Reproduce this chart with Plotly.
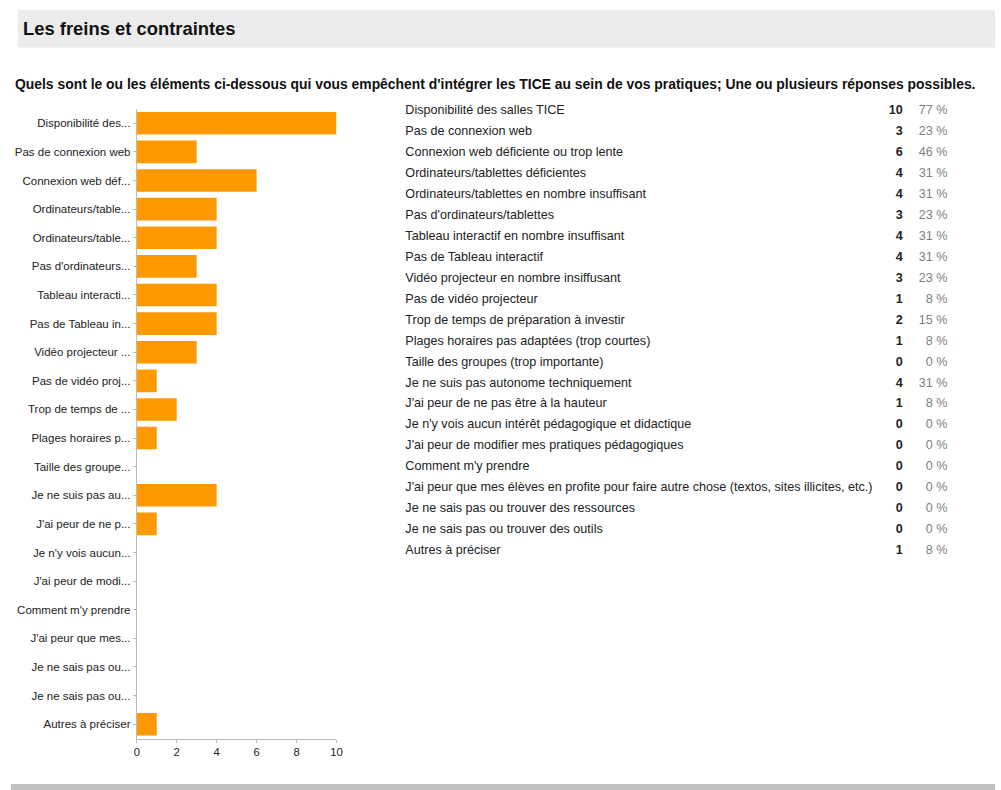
import plotly.graph_objects as go

title = "Les freins et contraintes"
question = ("Quels sont le ou les éléments ci-dessous qui vous empêchent d'intégrer les TICE "
            "au sein de vos pratiques; Une ou plusieurs réponses possibles.")

labels_full = [
    "Disponibilité des salles TICE",
    "Pas de connexion web",
    "Connexion web déficiente ou trop lente",
    "Ordinateurs/tablettes déficientes",
    "Ordinateurs/tablettes en nombre insuffisant",
    "Pas d'ordinateurs/tablettes",
    "Tableau interactif en nombre insuffisant",
    "Pas de Tableau interactif",
    "Vidéo projecteur en nombre insiffusant",
    "Pas de vidéo projecteur",
    "Trop de temps de préparation à investir",
    "Plages horaires pas adaptées (trop courtes)",
    "Taille des groupes (trop importante)",
    "Je ne suis pas autonome techniquement",
    "J'ai peur de ne pas être à la hauteur",
    "Je n'y vois aucun intérêt pédagogique et didactique",
    "J'ai peur de modifier mes pratiques pédagogiques",
    "Comment m'y prendre",
    "J'ai peur que mes élèves en profite pour faire autre chose (textos, sites illicites, etc.)",
    "Je ne sais pas ou trouver des ressources",
    "Je ne sais pas ou trouver des outils",
    "Autres à préciser",
]

labels_short = [
    "Disponibilité des...",
    "Pas de connexion web",
    "Connexion web déf...",
    "Ordinateurs/table...",
    "Ordinateurs/table...",
    "Pas d'ordinateurs...",
    "Tableau interacti...",
    "Pas de Tableau in...",
    "Vidéo projecteur ...",
    "Pas de vidéo proj...",
    "Trop de temps de ...",
    "Plages horaires p...",
    "Taille des groupe...",
    "Je ne suis pas au...",
    "J'ai peur de ne p...",
    "Je n'y vois aucun...",
    "J'ai peur de modi...",
    "Comment m'y prendre",
    "J'ai peur que mes...",
    "Je ne sais pas ou...",
    "Je ne sais pas ou...",
    "Autres à préciser",
]

counts = [10, 3, 6, 4, 4, 3, 4, 4, 3, 1, 2, 1, 0, 4, 1, 0, 0, 0, 0, 0, 0, 1]
percents = ["77 %", "23 %", "46 %", "31 %", "31 %", "23 %", "31 %", "31 %", "23 %", "8 %",
            "15 %", "8 %", "0 %", "31 %", "8 %", "0 %", "0 %", "0 %", "0 %", "0 %", "0 %", "8 %"]

x_ticks = [0, 2, 4, 6, 8, 10]

W, H = 1001, 790
FONT = "Arial, 'Liberation Sans', sans-serif"
TXT = "#222222"
N = len(labels_full)


def px(x):
    return x / W


def py(y):
    return 1 - y / H


fig = go.Figure()

fig.add_trace(go.Bar(
    x=counts, y=labels_full, orientation="h",
    marker=dict(color="#ff9900", line=dict(width=0)),
    width=0.79, xaxis="x", yaxis="y", hoverinfo="x+y", showlegend=False,
))

# table columns
fig.add_trace(go.Scatter(
    x=[406] * N, y=labels_full, mode="text", text=labels_full,
    textposition="middle right", textfont=dict(family=FONT, size=12.6, color=TXT),
    xaxis="x2", yaxis="y2", showlegend=False, hoverinfo="skip",
))
fig.add_trace(go.Scatter(
    x=[908] * N, y=labels_full, mode="text",
    text=["<b>%d</b>" % c for c in counts],
    textposition="middle left", textfont=dict(family=FONT, size=12.6, color=TXT),
    xaxis="x2", yaxis="y2", showlegend=False, hoverinfo="skip",
))
fig.add_trace(go.Scatter(
    x=[953] * N, y=labels_full, mode="text", text=percents,
    textposition="middle left", textfont=dict(family=FONT, size=12.6, color="#808080"),
    xaxis="x2", yaxis="y2", showlegend=False, hoverinfo="skip",
))

fig.update_layout(
    width=W, height=H,
    margin=dict(l=0, r=0, t=0, b=0),
    paper_bgcolor="white", plot_bgcolor="rgba(0,0,0,0)",
    font=dict(family=FONT, size=11, color=TXT),
    xaxis=dict(
        domain=[px(135), px(336.5)], range=[0, 10], tickvals=x_ticks,
        showgrid=False, zeroline=False, showline=True, linecolor="#bbbbbb", linewidth=1,
        ticks="outside", ticklen=3, tickcolor="#bbbbbb",
        tickfont=dict(family=FONT, size=11.3, color=TXT), anchor="y", fixedrange=True,
    ),
    yaxis=dict(
        domain=[py(738.5), py(109)], type="category",
        categoryorder="array", categoryarray=labels_full, range=[N - 0.5, -0.5],
        tickvals=labels_full, ticktext=labels_short,
        showgrid=False, zeroline=False, showline=True, linecolor="#bbbbbb", linewidth=1,
        ticks="outside", ticklen=3, tickcolor="#bbbbbb",
        tickfont=dict(family=FONT, size=11.5, color=TXT), anchor="x", fixedrange=True,
    ),
    xaxis2=dict(domain=[px(400), 1], range=[400, W], visible=False, anchor="y2", fixedrange=True),
    yaxis2=dict(
        domain=[py(561.5), py(100.5)], type="category",
        categoryorder="array", categoryarray=labels_full, range=[N - 0.5, -0.5],
        visible=False, anchor="x2", fixedrange=True,
    ),
    shapes=[
        dict(type="rect", xref="paper", yref="paper", x0=px(15), x1=1, y0=py(47.5), y1=py(10),
             fillcolor="#ececec", line=dict(width=0), layer="below"),
        dict(type="rect", xref="paper", yref="paper", x0=px(8), x1=1, y0=0, y1=py(784),
             fillcolor="#c0c0c0", line=dict(width=0), layer="below"),
    ],
    annotations=[
        dict(text="<b>%s</b>" % title, xref="paper", yref="paper", x=px(18), y=py(28.5),
             xanchor="left", yanchor="middle", showarrow=False,
             font=dict(family=FONT, size=18.4, color="#111111")),
        dict(text="<b>%s</b>" % question, xref="paper", yref="paper", x=px(10), y=py(84),
             xanchor="left", yanchor="middle", showarrow=False,
             font=dict(family=FONT, size=13.9, color="#111111")),
    ],
)

fig.write_html("out.html")
